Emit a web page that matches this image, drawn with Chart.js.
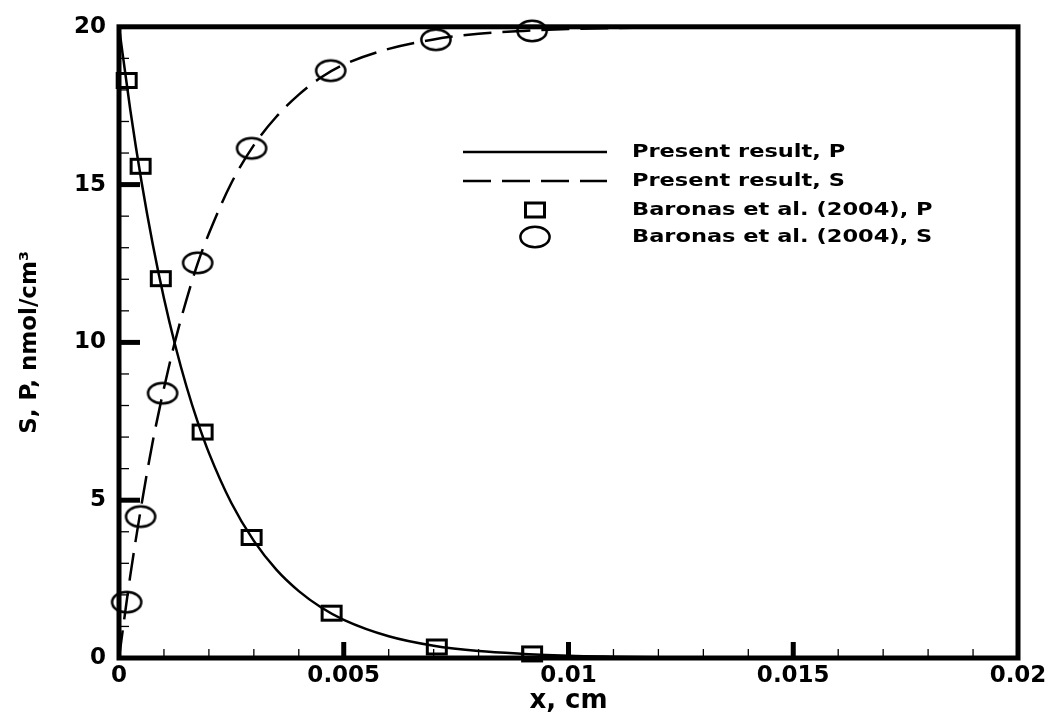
<!DOCTYPE html>
<html>
<head>
<meta charset="utf-8">
<script src="https://cdn.jsdelivr.net/npm/chart.js@4/dist/chart.umd.min.js"></script>
<style>
  html, body { margin: 0; padding: 0; background: #fff; }
  #wrap { width: 1054px; height: 717px; }
</style>
</head>
<body>
<div id="wrap"><canvas id="chart" width="1054" height="717"></canvas></div>
<script>
// x positions of the present (model) curves, cm
const curveX = [0, 0.00025, 0.0005, 0.00075, 0.001, 0.00125, 0.0015, 0.00175, 0.002, 0.0025,
  0.003, 0.0035, 0.004, 0.0045, 0.005, 0.006, 0.007, 0.008, 0.009, 0.01, 0.011, 0.012, 0.014, 0.016, 0.02];
// Present result, P
const presentP = [20, 17.38, 15.1, 13.12, 11.4, 9.91, 8.61, 7.48, 6.5, 4.91,
  3.71, 2.8, 2.12, 1.6, 1.21, 0.69, 0.39, 0.22, 0.13, 0.07, 0.04, 0.02, 0.01, 0, 0];
// Present result, S
const presentS = [0, 2.6, 4.85, 6.85, 8.55, 10.05, 11.35, 12.5, 13.45, 15.05,
  16.25, 17.15, 17.85, 18.4, 18.8, 19.3, 19.6, 19.78, 19.87, 19.93, 19.96, 19.98, 19.99, 20, 20];

// Baronas et al. (2004) points
const baronasPX = [0.00017, 0.00048, 0.00093, 0.00186, 0.00295, 0.00473, 0.00707, 0.00919];
const baronasP = [18.3, 15.58, 12.02, 7.16, 3.82, 1.42, 0.35, 0.13];
const baronasSX = [0.00017, 0.00048, 0.00097, 0.00175, 0.00295, 0.00471, 0.00705, 0.00919];
const baronasS = [1.77, 4.48, 8.39, 12.52, 16.15, 18.61, 19.59, 19.87];

// axis ticks
const xTicks = [0, 0.005, 0.01, 0.015, 0.02];
const xTickLabels = ["0", "0.005", "0.01", "0.015", "0.02"];
const yTicks = [0, 5, 10, 15, 20];
const yTickLabels = ["0", "5", "10", "15", "20"];

const legendLabels = ["Present result, P", "Present result, S", "Baronas et al. (2004), P", "Baronas et al. (2004), S"];

const FONT = "'DejaVu Sans', Verdana, sans-serif";
const DASH = [28, 11];

// zip x / y arrays into points
const toPoints = function (xs, ys) {
  return xs.map(function (x, i) {
    return { x: x, y: ys[i] };
  });
};

// hollow rectangle marker
const squareMarker = (function () {
  const c = document.createElement("canvas");
  c.width = 24;
  c.height = 19;
  const g = c.getContext("2d");
  g.strokeStyle = "#000";
  g.lineWidth = 3;
  g.strokeRect(2.5, 2.5, 19, 14);
  return c;
})();

// hollow ellipse marker
const circleMarker = (function () {
  const c = document.createElement("canvas");
  c.width = 34;
  c.height = 26;
  const g = c.getContext("2d");
  g.strokeStyle = "#000";
  g.lineWidth = 2.5;
  g.beginPath();
  g.ellipse(17, 13, 14.6, 10.3, 0, 0, Math.PI * 2);
  g.stroke();
  return c;
})();

// frame, inward ticks and the in-plot legend
const framePlugin = {
  id: "frame",
  afterDraw: function (chart) {
    const ctx = chart.ctx;
    const a = chart.chartArea;
    const xs = chart.scales.x;
    const ys = chart.scales.y;
    ctx.save();
    ctx.strokeStyle = "#000";

    // minor + major ticks on x (every 0.001)
    for (let i = 1; i < 20; i++) {
      const px = xs.getPixelForValue(i * 0.001);
      const major = i % 5 === 0;
      ctx.lineWidth = major ? 5 : 1.3;
      ctx.beginPath();
      ctx.moveTo(px, a.bottom);
      ctx.lineTo(px, a.bottom - (major ? 16 : 9));
      ctx.stroke();
    }
    // minor + major ticks on y (every 1)
    for (let j = 1; j < 20; j++) {
      const py = ys.getPixelForValue(j);
      const major = j % 5 === 0;
      ctx.lineWidth = major ? 5 : 1.3;
      ctx.beginPath();
      ctx.moveTo(a.left, py);
      ctx.lineTo(a.left + (major ? 21 : 10), py);
      ctx.stroke();
    }

    ctx.lineWidth = 5;
    ctx.strokeRect(a.left, a.top, a.right - a.left, a.bottom - a.top);

    // legend
    const lx0 = 463, lx1 = 607, tx = 632;
    const rows = [152, 181, 210, 237];
    ctx.lineWidth = 2.5;
    ctx.beginPath();
    ctx.moveTo(lx0, rows[0]);
    ctx.lineTo(lx1, rows[0]);
    ctx.stroke();
    ctx.setLineDash(DASH);
    ctx.beginPath();
    ctx.moveTo(lx0, rows[1]);
    ctx.lineTo(lx1, rows[1]);
    ctx.stroke();
    ctx.setLineDash([]);
    const mx = (lx0 + lx1) / 2;
    ctx.drawImage(squareMarker, mx - squareMarker.width / 2, rows[2] - squareMarker.height / 2);
    ctx.drawImage(circleMarker, mx - circleMarker.width / 2, rows[3] - circleMarker.height / 2);

    // the source figure is stretched sideways, so the legend text is too
    ctx.fillStyle = "#000";
    ctx.font = "bold 18px " + FONT;
    ctx.textBaseline = "middle";
    ctx.textAlign = "left";
    legendLabels.forEach(function (t, i) {
      ctx.save();
      ctx.translate(tx, rows[i]);
      ctx.scale(1.25, 1);
      ctx.fillText(t, 0, 0);
      ctx.restore();
    });
    ctx.restore();
  },
};

new Chart(document.getElementById("chart"), {
  type: "scatter",
  data: {
    datasets: [
      {
        label: legendLabels[0],
        data: toPoints(curveX, presentP),
        showLine: true,
        pointRadius: 0,
        borderColor: "#000",
        borderWidth: 2.5,
        cubicInterpolationMode: "monotone",
      },
      {
        label: legendLabels[1],
        data: toPoints(curveX, presentS),
        showLine: true,
        pointRadius: 0,
        borderColor: "#000",
        borderWidth: 2.5,
        borderDash: DASH,
        cubicInterpolationMode: "monotone",
      },
      {
        label: legendLabels[2],
        data: toPoints(baronasPX, baronasP),
        pointStyle: squareMarker,
        pointRadius: 11,
        showLine: false,
        clip: false,
      },
      {
        label: legendLabels[3],
        data: toPoints(baronasSX, baronasS),
        pointStyle: circleMarker,
        pointRadius: 14,
        showLine: false,
        clip: false,
      },
    ],
  },
  options: {
    responsive: false,
    animation: false,
    events: [],
    layout: { padding: { left: 0, top: 24, right: 36, bottom: 0 } },
    plugins: {
      legend: { display: false },
      tooltip: { enabled: false },
    },
    scales: {
      x: {
        type: "linear",
        min: 0,
        max: 0.02,
        afterBuildTicks: function (scale) {
          scale.ticks = xTicks.map(function (v) { return { value: v }; });
        },
        afterFit: function (scale) { scale.height = 59; },
        ticks: {
          color: "#000",
          font: { family: FONT, size: 23, weight: "bold" },
          padding: 4,
          maxRotation: 0,
          callback: function (value, i) { return xTickLabels[i]; },
        },
        grid: { display: false, drawTicks: false },
        border: { display: false },
        title: {
          display: true,
          text: "x, cm",
          color: "#000",
          font: { family: FONT, size: 26, weight: "bold" },
          padding: { top: 0, bottom: 0 },
        },
      },
      y: {
        type: "linear",
        min: 0,
        max: 20,
        afterBuildTicks: function (scale) {
          scale.ticks = yTicks.map(function (v) { return { value: v }; });
        },
        afterFit: function (scale) { scale.width = 119; },
        ticks: {
          color: "#000",
          font: { family: FONT, size: 23, weight: "bold" },
          padding: 13,
          callback: function (value, i) { return yTickLabels[i]; },
        },
        grid: { display: false, drawTicks: false },
        border: { display: false },
        title: {
          display: true,
          text: "S, P, nmol/cm³",
          color: "#000",
          font: { family: FONT, size: 23, weight: "bold" },
          padding: { top: 16, bottom: 0 },
        },
      },
    },
  },
  plugins: [framePlugin],
});
</script>
</body>
</html>
